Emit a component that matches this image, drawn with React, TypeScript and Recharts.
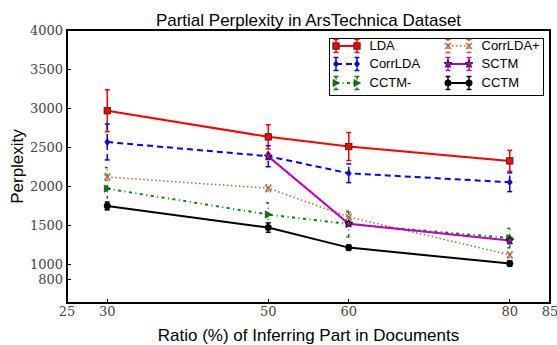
import React from 'react';
import { LineChart, Line, XAxis, YAxis, ErrorBar, ReferenceArea } from 'recharts';

const ratios = [30, 50, 60, 80];
const xTicks = [25, 30, 50, 60, 80, 85];
const yTicks = [800, 1000, 1500, 2000, 2500, 3000, 3500, 4000];
const xDomain = [25, 85];
const yDomain = [500, 4000];

const ldaMean = [2965, 2630, 2506, 2322];
const ldaErr = [268, 155, 180, 135];
const corrLdaMean = [2564, 2382, 2163, 2048];
const corrLdaErr = [230, 135, 120, 120];
const cctmMinusMean = [1966, 1634, 1512, 1332];
const cctmMinusErr = [270, 150, 165, 125];
const corrLdaPlusMean = [2115, 1972, 1603, 1117];
const corrLdaPlusErr = [45, 45, 60, 40];
const sctmMean = [null, 2380, 1517, 1300];
const sctmErr = [null, 40, 30, 40];
const cctmMean = [1745, 1467, 1210, 1006];
const cctmErr = [50, 60, 35, 35];

type Series = {
  id: string;
  name: string;
  mean: (number | null)[];
  err: (number | null)[];
  color: string;
  dash?: string;
  width: number;
  marker: string;
};

const SERIES: Series[] = [
  { id: 'lda', name: 'LDA', mean: ldaMean, err: ldaErr, color: '#ff0000', width: 2, marker: 'square' },
  { id: 'corrLda', name: 'CorrLDA', mean: corrLdaMean, err: corrLdaErr, color: '#0000ff', dash: '6 4', width: 2, marker: 'diamond' },
  { id: 'cctmMinus', name: 'CCTM-', mean: cctmMinusMean, err: cctmMinusErr, color: '#008000', dash: '3 3.5 1 3.5', width: 2, marker: 'triRight' },
  { id: 'corrLdaPlus', name: 'CorrLDA+', mean: corrLdaPlusMean, err: corrLdaPlusErr, color: '#b0653a', dash: '1.5 2.5', width: 1.5, marker: 'x' },
  { id: 'sctm', name: 'SCTM', mean: sctmMean, err: sctmErr, color: '#bf00bf', width: 2, marker: 'star' },
  { id: 'cctm', name: 'CCTM', mean: cctmMean, err: cctmErr, color: '#000000', width: 2, marker: 'circle' },
];

const data = ratios.map((r, i) => {
  const row: Record<string, number | null> = { ratio: r };
  SERIES.forEach((s) => {
    row[s.id] = s.mean[i];
    row[s.id + 'Err'] = s.err[i];
  });
  return row;
});

function starPoints(cx: number, cy: number, ro: number, ri: number) {
  const pts: string[] = [];
  for (let k = 0; k < 10; k++) {
    const r = k % 2 === 0 ? ro : ri;
    const a = -Math.PI / 2 + (k * Math.PI) / 5;
    pts.push(`${cx + r * Math.cos(a)},${cy + r * Math.sin(a)}`);
  }
  return pts.join(' ');
}

function renderMarker(shape: string, color: string, cx: number, cy: number, key: string) {
  const edge = '#222';
  switch (shape) {
    case 'square':
      return <rect key={key} x={cx - 3.2} y={cy - 3.2} width={6.4} height={6.4} fill={color} stroke={edge} strokeWidth={0.8} />;
    case 'diamond':
      return <polygon key={key} points={`${cx},${cy - 3.6} ${cx + 2.6},${cy} ${cx},${cy + 3.6} ${cx - 2.6},${cy}`} fill={color} stroke={edge} strokeWidth={0.6} />;
    case 'triRight':
      return <polygon key={key} points={`${cx + 3.6},${cy} ${cx - 3},${cy - 3.6} ${cx - 3},${cy + 3.6}`} fill={color} stroke={edge} strokeWidth={0.6} />;
    case 'x':
      return (
        <g key={key}>
          <line x1={cx - 3} y1={cy - 3} x2={cx + 3} y2={cy + 3} stroke={color} strokeWidth={1.3} />
          <line x1={cx - 3} y1={cy + 3} x2={cx + 3} y2={cy - 3} stroke={color} strokeWidth={1.3} />
        </g>
      );
    case 'star':
      return <polygon key={key} points={starPoints(cx, cy, 4.2, 1.8)} fill={color} stroke="#000" strokeWidth={0.8} />;
    default:
      return <circle key={key} cx={cx} cy={cy} r={3.3} fill={color} stroke={edge} strokeWidth={0.5} />;
  }
}

const tickFont = { fontFamily: 'DejaVu Serif', fontSize: 13, fill: '#444' };
const labelFont = { fontFamily: 'Liberation Sans', fontSize: 17, fill: '#000' };
const axisStroke = { stroke: '#000', strokeWidth: 1.5, shapeRendering: 'crispEdges' };
const tickStroke = { stroke: '#000', strokeWidth: 1, shapeRendering: 'crispEdges' };

function LegendItem({ s, left, top }: { s: Series; left: number; top: number }) {
  const xs = [5, 26];
  return (
    <>
      <svg width={31} height={18} style={{ position: 'absolute', left: left - 5, top: top - 9, overflow: 'visible' }}>
        <line x1={5} x2={26} y1={9} y2={9} stroke={s.color} strokeWidth={s.width} strokeDasharray={s.dash} />
        {xs.map((x) => (
          <g key={x}>
            <line x1={x} x2={x} y1={2.5} y2={15.5} stroke={s.color} strokeWidth={1.5} strokeDasharray={s.dash} />
            <line x1={x - 2.5} x2={x + 2.5} y1={2.5} y2={2.5} stroke={s.color} strokeWidth={1.5} />
            <line x1={x - 2.5} x2={x + 2.5} y1={15.5} y2={15.5} stroke={s.color} strokeWidth={1.5} />
            {renderMarker(s.marker, s.color, x, 9, 'm' + x)}
          </g>
        ))}
      </svg>
      <span
        style={{
          position: 'absolute',
          left: left + 34,
          top: top - 8,
          height: 16,
          lineHeight: '16px',
          fontFamily: 'Liberation Sans',
          fontSize: 13,
          whiteSpace: 'nowrap',
          color: '#000',
        }}
      >
        {s.name}
      </span>
    </>
  );
}

export default function App() {
  const rows = [8.7, 26.7, 45.3];
  const cols = [7, 119];
  return (
    <div style={{ position: 'absolute', left: 0, top: 0, width: 557, height: 345, background: '#fff' }}>
      <LineChart width={557} height={345} data={data} margin={{ top: 30, right: 7, left: 0, bottom: 0 }}>
        <XAxis
          dataKey="ratio"
          type="number"
          domain={xDomain}
          ticks={xTicks}
          interval={0}
          height={42}
          tickSize={-4}
          tickMargin={8}
          stroke="#000"
          axisLine={axisStroke}
          tickLine={tickStroke}
          tick={tickFont}
          allowDataOverflow
          label={{ value: 'Ratio (%) of Inferring Part in Documents', position: 'insideBottom', offset: 4, style: labelFont }}
        />
        <XAxis
          xAxisId="top"
          orientation="top"
          dataKey="ratio"
          type="number"
          domain={xDomain}
          ticks={xTicks}
          interval={0}
          height={0}
          tickSize={-4}
          tick={false}
          stroke="#000"
          axisLine={axisStroke}
          tickLine={tickStroke}
          allowDataOverflow
        />
        <YAxis
          type="number"
          domain={yDomain}
          ticks={yTicks}
          interval={0}
          width={67}
          tickSize={-4}
          tickMargin={8}
          stroke="#000"
          axisLine={axisStroke}
          tickLine={tickStroke}
          tick={tickFont}
          allowDataOverflow
          label={{ value: 'Perplexity', angle: -90, position: 'center', dx: -16.5, style: labelFont }}
        />
        <YAxis
          yAxisId="right"
          orientation="right"
          type="number"
          domain={yDomain}
          ticks={yTicks}
          interval={0}
          width={0}
          tickSize={-4}
          tick={false}
          stroke="#000"
          axisLine={axisStroke}
          tickLine={tickStroke}
          allowDataOverflow
        />
        <ReferenceArea
          x1={xDomain[0]}
          x2={xDomain[1]}
          y1={yDomain[0]}
          y2={yDomain[1]}
          fill="none"
          fillOpacity={0}
          stroke="#000"
          strokeWidth={1.5}
          strokeOpacity={1}
          shapeRendering="crispEdges"
          ifOverflow="extendDomain"
        />
        {SERIES.map((s) => (
          <Line
            key={s.id}
            type="linear"
            dataKey={s.id}
            name={s.name}
            stroke={s.color}
            strokeWidth={s.width}
            strokeDasharray={s.dash}
            isAnimationActive={false}
            activeDot={false}
            dot={(p: any) => {
              const k = `${s.id}-${p.index}`;
              if (p.value == null || p.cy == null || Number.isNaN(p.cy)) return <g key={k} />;
              return renderMarker(s.marker, s.color, p.cx, p.cy, k);
            }}
          >
            <ErrorBar
              dataKey={s.id + 'Err'}
              direction="y"
              width={2.5}
              stroke={s.color}
              strokeWidth={1.5}
              strokeDasharray={s.dash}
              isAnimationActive={false}
            />
          </Line>
        ))}
      </LineChart>
      <div
        style={{
          position: 'absolute',
          left: 67,
          width: 483,
          top: 12,
          textAlign: 'center',
          fontFamily: 'Liberation Sans',
          fontSize: 17,
          lineHeight: '17px',
          color: '#000',
          whiteSpace: 'nowrap',
        }}
      >
        Partial Perplexity in ArsTechnica Dataset
      </div>
      <div
        style={{
          position: 'absolute',
          left: 329,
          top: 38,
          width: 215,
          height: 58,
          border: '1.5px solid #000',
          boxSizing: 'border-box',
          background: '#fff',
        }}
      >
        {SERIES.map((s, i) => (
          <LegendItem key={s.id} s={s} left={cols[Math.floor(i / 3)] - 1.5} top={rows[i % 3] - 1.5} />
        ))}
      </div>
    </div>
  );
}
